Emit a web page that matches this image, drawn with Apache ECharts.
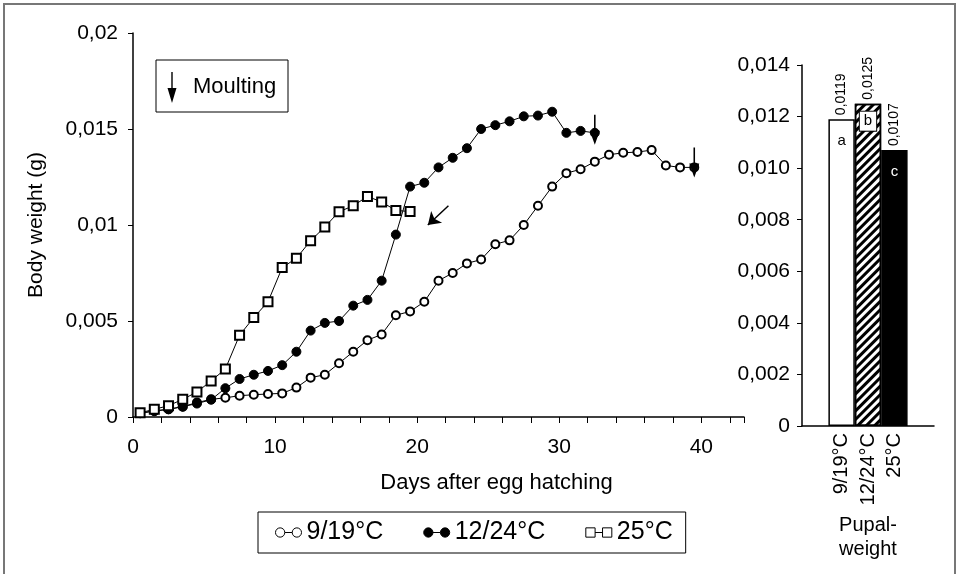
<!DOCTYPE html>
<html>
<head>
<meta charset="utf-8">
<script src="https://cdn.jsdelivr.net/npm/echarts@6/dist/echarts.min.js"></script>
<style>
  html, body { margin: 0; padding: 0; background: #fff; }
  #main { width: 958px; height: 574px; }
</style>
</head>
<body>
<div id="main"></div>
<script>
// days after egg hatching (shared x values)
const days = [0.5, 1.5, 2.5, 3.5, 4.5, 5.5, 6.5, 7.5, 8.5, 9.5,
  10.5, 11.5, 12.5, 13.5, 14.5, 15.5, 16.5, 17.5, 18.5, 19.5,
  20.5, 21.5, 22.5, 23.5, 24.5, 25.5, 26.5, 27.5, 28.5, 29.5,
  30.5, 31.5, 32.5, 33.5, 34.5, 35.5, 36.5, 37.5, 38.5, 39.5];

// body weight (g)
const weight919 = [0.0002, 0.00033, 0.0004, 0.00054, 0.00075, 0.00092, 0.001, 0.00111, 0.00116, 0.0012,
  0.00123, 0.00153, 0.00205, 0.0022, 0.0028, 0.0034, 0.004, 0.0043, 0.0053, 0.0055,
  0.006, 0.0071, 0.0075, 0.008, 0.0082, 0.009, 0.0092, 0.01, 0.011, 0.012,
  0.0127, 0.0129, 0.0133, 0.01366, 0.01376, 0.0138, 0.0139, 0.0131, 0.013, 0.013];
const weight1224 = [0.0002, 0.0003, 0.0004, 0.00054, 0.0007, 0.0009, 0.0015, 0.00198, 0.0022, 0.0024,
  0.0027, 0.0034, 0.0045, 0.0049, 0.005, 0.0058, 0.0061, 0.0071, 0.0095, 0.012,
  0.0122, 0.013, 0.0135, 0.014, 0.015, 0.0152, 0.0154, 0.01566, 0.0157, 0.0159,
  0.0148, 0.0149, 0.0148];
const weight25 = [0.00022, 0.0004, 0.00059, 0.00092, 0.0013, 0.00188, 0.0025, 0.00426, 0.00518, 0.006,
  0.00778, 0.00827, 0.00918, 0.0099, 0.01069, 0.011, 0.01149, 0.0112, 0.01076, 0.0107];

const seriesNames = ["9/19°C", "12/24°C", "25°C"];

// pupal weight (g)
const pupalCategories = ["9/19°C", "12/24°C", "25°C"];
const pupalWeight = [0.0119, 0.0125, 0.0107];
const pupalGroups = ["a", "b", "c"];

const FONT = '"Liberation Sans", Arial, sans-serif';
const comma = (v) => String(+(+v).toFixed(4)).replace(".", ",");
const pairs = (ys) => ys.map((y, i) => [days[i], y]);

const chart = echarts.init(document.getElementById("main"));

const lineBase = {
  type: "line",
  xAxisIndex: 0,
  yAxisIndex: 0,
  lineStyle: { color: "#000", width: 1 },
  emphasis: { disabled: true },
  z: 3,
};

const arrowDown = "path://M4.3,0 H5.7 V16 H9.5 L5,30 L0.5,16 H4.3 Z";

// bar styles per category
const barStyles = [
  { color: "#fff", borderColor: "#000", borderWidth: 1.5 },
  {
    color: "#fff", borderColor: "#000", borderWidth: 1.5,
    decal: { symbol: "rect", symbolSize: 1, dashArrayX: [[1, 0]], dashArrayY: [3, 3], rotation: -Math.PI / 4, color: "#000" },
  },
  { color: "#000", borderColor: "#000", borderWidth: 1.5 },
];
const letterLabels = [
  { distance: 14, color: "#000" },
  { distance: 8, color: "#000", backgroundColor: "#fff", borderColor: "#000", borderWidth: 1, padding: [2, 4] },
  { distance: 14, color: "#fff" },
];

var option = {
  animation: false,
  textStyle: { fontFamily: FONT, color: "#000" },
  grid: [
    { left: 133, right: 214, top: 33, bottom: 157, outerBoundsMode: "none" },
    { left: 802, right: 24, top: 65, bottom: 148, outerBoundsMode: "none" },
  ],
  xAxis: [
    {
      gridIndex: 0,
      type: "value",
      min: 0,
      max: 43,
      interval: 2,
      name: "Days after egg hatching",
      nameLocation: "middle",
      nameGap: 55,
      nameTextStyle: { fontSize: 22, fontFamily: FONT, color: "#000", padding: [0, 0, 0, 116] },
      axisLine: { show: true, lineStyle: { color: "#000", width: 1.5 } },
      axisTick: { show: true, length: 6, lineStyle: { color: "#000" } },
      axisLabel: {
        fontSize: 21, color: "#000", margin: 20, fontFamily: FONT,
        formatter: (v) => (v % 10 === 0 ? String(v) : ""),
      },
      splitLine: { show: false },
    },
    {
      gridIndex: 1,
      type: "category",
      data: ["", ...pupalCategories, ""],
      name: "Pupal-\nweight",
      nameLocation: "middle",
      nameGap: 77,
      nameTextStyle: { fontSize: 20, fontFamily: FONT, color: "#000", lineHeight: 24 },
      axisLine: { show: true, lineStyle: { color: "#000", width: 1.5 } },
      axisTick: { show: false },
      axisLabel: { rotate: 90, fontSize: 20, color: "#000", margin: 7, fontFamily: FONT, interval: 0 },
    },
  ],
  yAxis: [
    {
      gridIndex: 0,
      type: "value",
      min: 0,
      max: 0.02,
      interval: 0.005,
      name: "Body weight (g)",
      nameLocation: "middle",
      nameGap: 86,
      nameTextStyle: { fontSize: 21, fontFamily: FONT, color: "#000" },
      axisLine: { show: true, lineStyle: { color: "#000", width: 1.5 } },
      axisTick: { show: true, length: 5, lineStyle: { color: "#000" } },
      axisLabel: { fontSize: 21, color: "#000", margin: 15, fontFamily: FONT, formatter: comma },
      splitLine: { show: false },
    },
    {
      gridIndex: 1,
      type: "value",
      min: 0,
      max: 0.014,
      interval: 0.002,
      axisLine: { show: true, lineStyle: { color: "#000", width: 1.5 } },
      axisTick: { show: true, length: 5, lineStyle: { color: "#000" } },
      axisLabel: {
        fontSize: 21, color: "#000", margin: 12, fontFamily: FONT,
        formatter: (v) => (v === 0 ? "0" : v.toFixed(3).replace(".", ",")),
      },
      splitLine: { show: false },
    },
  ],
  legend: {
    left: 258,
    top: 512,
    orient: "horizontal",
    padding: [8, 13, 8, 17],
    itemGap: 40,
    itemWidth: 26,
    itemHeight: 10,
    borderColor: "#000",
    borderWidth: 1,
    textStyle: { fontSize: 25, fontFamily: FONT, color: "#000" },
    data: [
      {
        name: seriesNames[0],
        icon: "path://M0,5a5,5 0 1,0 10,0a5,5 0 1,0 -10,0M10,5H18M18,5a5,5 0 1,0 10,0a5,5 0 1,0 -10,0",
        itemStyle: { color: "#fff", borderColor: "#000", borderWidth: 1 },
      },
      {
        name: seriesNames[1],
        icon: "path://M0,5a5,5 0 1,0 10,0a5,5 0 1,0 -10,0M10,5H18M18,5a5,5 0 1,0 10,0a5,5 0 1,0 -10,0",
        itemStyle: { color: "#000", borderColor: "#000", borderWidth: 1 },
      },
      {
        name: seriesNames[2],
        icon: "path://M0,0H10V10H0ZM10,5H18M18,0H28V10H18Z",
        itemStyle: { color: "#fff", borderColor: "#000", borderWidth: 1 },
      },
    ],
  },
  series: [
    {
      ...lineBase,
      name: seriesNames[0],
      data: pairs(weight919),
      symbol: "circle",
      symbolSize: 8,
      itemStyle: { color: "#fff", borderColor: "#000", borderWidth: 2 },
      markPoint: {
        silent: true,
        symbol: arrowDown,
        symbolSize: [10, 30],
        symbolOffset: [0, -5],
        itemStyle: { color: "#000" },
        label: { show: false },
        data: [{ coord: [days[weight919.length - 1], weight919[weight919.length - 1]] }],
      },
    },
    {
      ...lineBase,
      name: seriesNames[1],
      data: pairs(weight1224),
      symbol: "circle",
      symbolSize: 9,
      itemStyle: { color: "#000", borderColor: "#000", borderWidth: 1 },
      markPoint: {
        silent: true,
        symbol: arrowDown,
        symbolSize: [10, 30],
        symbolOffset: [0, -3],
        itemStyle: { color: "#000" },
        label: { show: false },
        data: [{ coord: [days[weight1224.length - 1], weight1224[weight1224.length - 1]] }],
      },
    },
    {
      ...lineBase,
      name: seriesNames[2],
      data: pairs(weight25),
      symbol: "rect",
      symbolSize: 9,
      itemStyle: { color: "#fff", borderColor: "#000", borderWidth: 2 },
      markLine: {
        silent: true,
        symbol: ["none", "arrow"],
        symbolSize: 12,
        lineStyle: { color: "#000", width: 1.5, type: "solid" },
        label: { show: false },
        data: [[{ coord: [22.2, 0.011] }, { coord: [20.75, 0.01] }]],
      },
    },
    {
      name: "Pupal weight",
      type: "bar",
      xAxisIndex: 1,
      yAxisIndex: 1,
      barCategoryGap: "0%",
      barGap: "-100%",
      data: ["-", ...pupalWeight.map((v, i) => ({ value: v, itemStyle: barStyles[i] })), "-"],
      label: {
        show: true,
        position: "top",
        rotate: 90,
        align: "left",
        verticalAlign: "middle",
        distance: 4,
        fontSize: 14,
        fontFamily: FONT,
        color: "#000",
        formatter: (p) => comma(p.value),
      },
      emphasis: { disabled: true },
    },
    {
      name: "Groups",
      type: "bar",
      xAxisIndex: 1,
      yAxisIndex: 1,
      barCategoryGap: "0%",
      barGap: "-100%",
      silent: true,
      z: 5,
      itemStyle: { color: "rgba(0,0,0,0)" },
      data: ["-", ...pupalWeight.map((v, i) => ({
        value: v,
        label: Object.assign({ show: true, position: "insideTop", fontSize: 15, fontFamily: FONT,
          formatter: pupalGroups[i] }, letterLabels[i]),
      })), "-"],
      emphasis: { disabled: true },
    },
  ],
  graphic: [
    {
      type: "rect",
      silent: true,
      shape: { x: 4, y: 4, width: 951, height: 590 },
      style: { fill: "none", stroke: "#777", lineWidth: 2 },
    },
    {
      type: "rect",
      silent: true,
      shape: { x: 156, y: 60, width: 132, height: 52 },
      style: { fill: "#fff", stroke: "#000", lineWidth: 1 },
    },
    {
      type: "polygon",
      silent: true,
      shape: { points: [[171.3, 72], [172.7, 72], [172.7, 88], [176.5, 88], [172, 103], [167.5, 88], [171.3, 88]] },
      style: { fill: "#000" },
    },
    {
      type: "text",
      silent: true,
      x: 193,
      y: 87,
      style: { text: "Moulting", font: "22px " + FONT, fill: "#000", verticalAlign: "middle" },
    },
  ],
};

option && chart.setOption(option);
</script>
</body>
</html>
